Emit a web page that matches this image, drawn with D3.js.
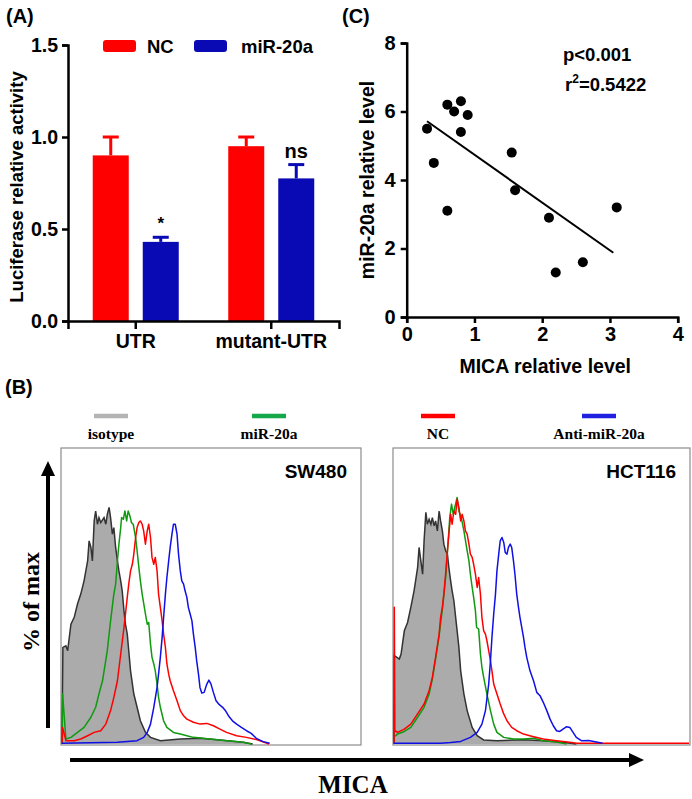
<!DOCTYPE html>
<html>
<head>
<meta charset="utf-8">
<script src="https://cdn.jsdelivr.net/npm/d3@7"></script>
<style>
  body { margin: 0; background: #fff; }
  svg { display: block; }
</style>
</head>
<body>
<div id="chart"></div>
<script>
// ---- (A) luciferase bars ----
const groups = ["UTR", "mutant-UTR"];
const treatments = ["NC", "miR-20a"];
const barMeans = [[0.90, 0.43], [0.95, 0.775]];
const barErrors = [[0.10, 0.025], [0.05, 0.075]];
const barMarks = [["", "*"], ["", "ns"]];
const barTicks = [0, 0.5, 1.0, 1.5];

// ---- (C) correlation ----
const micaLevel = [0.3, 0.4, 0.6, 0.7, 0.8, 0.8, 0.9, 0.6, 1.55, 1.6, 2.1, 2.2, 2.6, 3.1];
const mirLevel  = [5.5, 4.5, 6.2, 6.0, 6.3, 5.4, 5.9, 3.1, 4.8, 3.7, 2.9, 1.3, 1.6, 3.2];
const scatterXTicks = [0, 1, 2, 3, 4];
const scatterYTicks = [0, 2, 4, 6, 8];

// ---- (B) flow histograms (x: % of axis, y: % of max) ----
const cellLines = ["SW480", "HCT116"];
const histLabels = ["isotype", "miR-20a", "NC", "Anti-miR-20a"];

const sw480Isotype = [[0,0],[0.3,40.8],[1.3,41.5],[1.9,39.4],[3,50.6],[4.1,53.5],[5.2,59.1],[6.3,63.3],[7.4,68.9],[8.6,77.3],[9.1,85.8],[9.7,83],[10.2,77.3],[10.8,94.2],[11.3,98.4],[11.9,92.8],[12.4,95.6],[13,93.5],[14.1,95.6],[14.7,92.8],[15.2,97],[15.8,99.9],[16.3,95.6],[16.9,88.6],[17.4,91.4],[18,83],[18.6,77.3],[19.1,73.1],[19.7,68.9],[20.2,64.7],[20.8,56.2],[21.3,50.6],[21.9,46.4],[22.4,39.4],[23,30.9],[24.1,21.1],[25.2,15.5],[26.3,9.8],[28,4.9],[29.7,2.8],[33,1.4],[39.7,2.1],[46.3,2.4],[53,1.7],[60.8,0.7],[64,0]];
const sw480Mir = [[0,0],[0.2,21.1],[1.3,2.1],[3,2.8],[5.2,4.9],[7.4,7],[9.7,11.3],[11.3,15.5],[12.4,21.1],[13.6,26.7],[15.2,39.4],[16.3,52],[17.4,63.3],[18,67.5],[18.6,77.3],[19.1,84.4],[19.7,91.4],[20,95.6],[20.6,94.9],[21.1,98.4],[21.7,94.2],[22.2,98.4],[22.8,96.3],[23.3,93.5],[23.9,92.8],[24.7,87.2],[25.2,81.6],[25.8,74.5],[26.3,68.9],[26.9,63.3],[28,54.9],[28.6,50.6],[29.1,51.3],[29.7,42.2],[30.2,36.6],[30.8,33.8],[31.3,30.9],[31.9,25.3],[32.4,19.7],[33,15.5],[34.1,9.8],[35.2,7],[37.4,4.9],[39.7,4.2],[41.9,3.5],[44.1,2.8],[49.7,2.1],[55.2,1.4],[60.8,0.7],[63.5,0]];
const sw480Nc = [[0,0],[0.2,7],[1.3,1.4],[4.1,1.4],[6.3,2.1],[8.6,3.5],[10.8,4.9],[13,5.6],[14.7,8.4],[16.3,14.1],[17.4,19.7],[18.6,26.7],[19.7,38],[20.8,49.2],[21.3,54.9],[21.9,61.9],[22.4,67.5],[23,73.1],[23.6,75.9],[24.1,80.2],[24.7,87.2],[25.2,91.4],[25.8,93.5],[26.3,94.2],[26.9,92.8],[27.4,90],[28,84.4],[28.6,90],[29.1,92.8],[29.7,87.2],[30.2,78.8],[30.8,75.9],[31.3,78.8],[31.9,73.1],[32.4,63.3],[33,57.7],[33.6,52],[34.1,46.4],[34.7,40.8],[35.2,33.8],[35.8,29.5],[36.3,26.7],[37.4,22.5],[38.6,18.3],[39.7,14.1],[40.8,11.9],[41.9,10.5],[44.1,9.2],[46.3,8.4],[48.6,8.7],[50.8,7.7],[53,6.3],[55.2,4.9],[58.6,3.5],[61.9,2.8],[65.5,1.8],[69.5,0]];
const sw480Anti = [[0,0.3],[18.6,0.7],[25.2,1.4],[27.4,2.8],[28.6,4.9],[29.7,8.4],[30.8,15.5],[31.9,23.9],[32.4,29.5],[33,36.6],[33.6,45],[34.1,53.5],[34.7,63.3],[35.2,70.3],[35.8,77.3],[36.3,83],[36.9,88.6],[37.4,92.8],[38,92.8],[38.6,88.6],[39.1,80.2],[39.7,73.1],[40.2,68.9],[40.8,67.5],[41.3,64.7],[41.9,61.9],[42.4,57.7],[43,54.9],[43.6,52],[44.1,46.4],[44.7,40.8],[45.2,35.1],[45.8,29.5],[46.3,23.9],[46.9,21.5],[47.7,21.8],[48.6,25.3],[49.3,27],[50,25.3],[50.8,21.8],[51.7,18.3],[52.8,16.6],[53.9,15.5],[55,13.8],[56.1,11.5],[57.2,9.8],[58.6,8.4],[60.2,7],[61.9,5.6],[63.5,4.5],[65.2,2.4],[67.5,1],[69.7,0.3]];

const hctIsotype = [[0,0],[0.1,37.3],[1,36.6],[1.8,35.9],[2.4,38],[3.5,47.8],[4.6,51.3],[5.7,57.7],[6.8,64.7],[8,74.5],[8.5,83],[9.1,77.3],[9.7,71.7],[10.2,85.8],[10.8,97.8],[11.3,92.8],[11.9,94.9],[12.5,92.8],[13,95.6],[13.6,92.1],[14.1,94.2],[14.7,90],[15.3,98.4],[15.8,94.2],[16.4,90],[16.9,84.4],[17.5,81.6],[18.1,80.2],[18.6,74.5],[19.2,68.9],[19.7,64.7],[20.3,60.5],[20.9,53.5],[21.4,47.8],[22,40.8],[22.6,30.9],[23.7,21.1],[24.8,14.1],[26.5,7],[28.2,3.5],[30.4,1.7],[34.9,1.4],[43.9,1.8],[50.6,1.4],[57.3,0.7],[61.8,0]];
const hctMir = [[0,3],[1.2,4.2],[3.5,5.3],[5.7,7],[8,11.3],[10.2,15.5],[11.9,21.1],[13,27.4],[14.1,35.9],[15.3,45.7],[16.4,57],[17.5,70.3],[18.3,84.4],[18.9,95.6],[19.5,101.3],[20.1,97],[20.6,99.9],[21.4,104.1],[22,98.4],[22.8,95.6],[23.7,90],[24.6,83],[25.4,77.3],[25.9,71.7],[26.5,66.1],[27,61.9],[27.6,56.2],[28,49.2],[28.7,48.5],[29.3,38],[29.8,32.4],[30.4,28.1],[31.5,21.1],[32.7,14.1],[33.8,8.4],[34.9,4.9],[37.2,2.8],[40.5,2.1],[43.9,2.1],[47.3,2.4],[50.6,1.4],[55.1,0.8],[58.5,0]];
const hctNc = [[0,0],[0.1,57.7],[0.3,5.6],[1.2,4.9],[3.5,6.3],[5.7,8.4],[8,12.7],[10.2,16.9],[11.9,22.5],[13,28.1],[14.1,36.6],[15.3,46.4],[15.8,53.5],[16.4,57.7],[16.9,63.3],[17.5,71.7],[18.1,81.6],[18.6,88.6],[19.2,97],[19.7,92.8],[20.3,98.4],[20.9,97],[21.4,103.4],[22,99.9],[22.6,94.2],[23.1,97],[23.7,94.2],[24.2,90],[24.8,88.6],[25.4,84.4],[25.9,80.2],[26.5,78.8],[27,75.9],[27.6,71.7],[28.2,66.1],[28.7,70.3],[29.3,63.3],[29.8,53.5],[30.4,47.8],[31,46.4],[31.5,43.6],[32.1,39.4],[32.7,35.1],[33.2,30.9],[33.8,25.3],[34.9,21.1],[36,16.9],[37.2,12.7],[38.3,9.8],[39.9,7],[41.6,5.6],[43.9,4.2],[47.3,3.1],[50.6,2.1],[55.1,1.4],[59.6,0.7],[62,0.3],[100,0.3]];
const hctAnti = [[0,0.3],[15.8,0.3],[19.2,0.6],[22.6,1.1],[25.9,2.8],[28.2,4.9],[29.8,8.4],[31,14.1],[32.1,25.3],[32.7,35.1],[33.2,45],[33.8,54.9],[34.4,63.3],[34.9,73.1],[35.5,80.2],[36,85.8],[36.6,87.2],[37.2,85.1],[37.7,80.9],[38.3,80.2],[38.8,83],[39.4,84.4],[39.9,83],[40.5,77.3],[41,71.7],[41.6,63.3],[42.2,57.7],[42.7,53.5],[43.3,49.2],[43.9,45],[44.4,40.8],[45,36.6],[46.1,30.9],[47.3,26.7],[48.4,21.8],[49.5,20.4],[50.6,17.6],[51.8,14.1],[52.9,10.5],[54,7.7],[55.1,5.6],[56.2,5.3],[57.3,6.3],[58.5,7.3],[59.6,7],[60.7,4.9],[61.8,2.8],[63.5,1.4],[66,1.5],[70.7,0.3]];

const histData = [
  [sw480Isotype, sw480Mir, sw480Nc, sw480Anti],
  [hctIsotype, hctMir, hctNc, hctAnti]
];

const W = 692, H = 799;
const bold = "'Liberation Sans', Arial, sans-serif";
const serif = "'Liberation Serif', 'Times New Roman', serif";

const svg = d3.select("#chart").append("svg")
  .attr("width", W).attr("height", H)
  .style("font-family", bold).style("font-weight", "bold");

// ================= (A) =================
const aLeft = 68, aRight = 339, aTop = 45, aBottom = 321;
const barColors = ["#ff0000", "#0a0ab4"];

const yA = d3.scaleLinear().domain([0, 1.5]).range([aBottom, aTop]);
const xA = d3.scaleBand().domain(groups).range([aLeft, aRight]);
const xInner = d3.scaleBand().domain(treatments).range([24.75, 110.75]).paddingInner(0.28);

const gA = svg.append("g");

const barData = [];
groups.forEach((g, i) => treatments.forEach((t, j) => {
  barData.push({ g, t, j, v: barMeans[i][j], e: barErrors[i][j], m: barMarks[i][j] });
}));

gA.selectAll("rect.bar").data(barData).join("rect")
  .attr("class", "bar")
  .attr("x", d => xA(d.g) + xInner(d.t))
  .attr("y", d => yA(d.v))
  .attr("width", xInner.bandwidth())
  .attr("height", d => yA(0) - yA(d.v))
  .attr("fill", d => barColors[d.j]);

// error bars (upper only)
const errG = gA.selectAll("g.err").data(barData).join("g").attr("class", "err")
  .attr("stroke", d => barColors[d.j]).attr("stroke-width", 3);
errG.append("line")
  .attr("x1", d => xA(d.g) + xInner(d.t) + xInner.bandwidth() / 2)
  .attr("x2", d => xA(d.g) + xInner(d.t) + xInner.bandwidth() / 2)
  .attr("y1", d => yA(d.v)).attr("y2", d => yA(d.v + d.e));
errG.append("line")
  .attr("x1", d => xA(d.g) + xInner(d.t) + xInner.bandwidth() / 2 - 8)
  .attr("x2", d => xA(d.g) + xInner(d.t) + xInner.bandwidth() / 2 + 8)
  .attr("y1", d => yA(d.v + d.e)).attr("y2", d => yA(d.v + d.e));

gA.selectAll("text.mark").data(barData.filter(d => d.m)).join("text")
  .attr("class", "mark")
  .attr("x", d => xA(d.g) + xInner(d.t) + xInner.bandwidth() / 2)
  .attr("y", d => yA(d.v + d.e) - (d.m === "*" ? 8 : 7))
  .attr("text-anchor", "middle")
  .style("font-size", d => d.m === "*" ? "17px" : "20px")
  .text(d => d.m);

// axes
const axA_y = gA.append("g").attr("transform", `translate(${aLeft},0)`)
  .call(d3.axisLeft(yA).tickValues(barTicks).tickFormat(d3.format(".1f")).tickSizeOuter(0).tickSize(6).tickPadding(4));
const axA_x = gA.append("g").attr("transform", `translate(0,${aBottom})`)
  .call(d3.axisBottom(xA).tickSizeOuter(0).tickSize(8).tickPadding(5));
[axA_y, axA_x].forEach(a => {
  a.select(".domain").attr("stroke-width", 2.5);
  a.selectAll(".tick line").attr("stroke-width", 2.5);
  a.selectAll("text").style("font-family", bold).style("font-weight", "bold").style("font-size", "19.5px").attr("fill", "#000");
});

gA.append("text")
  .attr("transform", `translate(23,${(aTop + aBottom) / 2 + 4}) rotate(-90)`)
  .attr("text-anchor", "middle").style("font-size", "18.5px")
  .text("Luciferase relative activity");

// legend
const legA = gA.selectAll("g.leg").data(treatments).join("g").attr("class", "leg")
  .attr("transform", (d, i) => `translate(${[103, 194][i]},40)`);
legA.append("rect").attr("width", 33).attr("height", 12).attr("rx", 3)
  .attr("fill", (d, i) => barColors[i]);
legA.append("text").attr("x", (d, i) => [44, 47][i]).attr("y", 13)
  .style("font-size", "18.5px").text(d => d);

svg.append("text").attr("x", 6).attr("y", 23).style("font-size", "20px").text("(A)");

// ================= (C) =================
const cLeft = 406.7, cRight = 677.7, cTop = 43, cBottom = 317;
const xC = d3.scaleLinear().domain([0, 4]).range([cLeft, cRight]);
const yC = d3.scaleLinear().domain([0, 8]).range([cBottom, cTop]);
const gC = svg.append("g");

const axC_x = gC.append("g").attr("transform", `translate(0,${cBottom})`)
  .call(d3.axisBottom(xC).tickValues(scatterXTicks).tickFormat(d3.format("d")).tickSizeOuter(0).tickSize(6).tickPadding(4));
const axC_y = gC.append("g").attr("transform", `translate(${cLeft},0)`)
  .call(d3.axisLeft(yC).tickValues(scatterYTicks).tickFormat(d3.format("d")).tickSizeOuter(0).tickSize(6).tickPadding(5));
[axC_x, axC_y].forEach(a => {
  a.select(".domain").attr("stroke-width", 2.5);
  a.selectAll(".tick line").attr("stroke-width", 2.5);
  a.selectAll("text").style("font-family", bold).style("font-weight", "bold").style("font-size", "20px").attr("fill", "#000");
});

const pts = micaLevel.map((x, i) => ({ x, y: mirLevel[i] }));
// least-squares fit
const mx = d3.mean(pts, d => d.x), my = d3.mean(pts, d => d.y);
const slope = d3.sum(pts, d => (d.x - mx) * (d.y - my)) / d3.sum(pts, d => (d.x - mx) ** 2);
const icpt = my - slope * mx;
const [fx0, fx1] = d3.extent(micaLevel);
gC.append("line")
  .attr("x1", xC(fx0)).attr("y1", yC(icpt + slope * fx0))
  .attr("x2", xC(fx1 - 0.05)).attr("y2", yC(icpt + slope * (fx1 - 0.05)))
  .attr("stroke", "#000").attr("stroke-width", 2);

gC.selectAll("circle").data(pts).join("circle")
  .attr("cx", d => xC(d.x)).attr("cy", d => yC(d.y)).attr("r", 5).attr("fill", "#000");

gC.append("text").attr("transform", `translate(374,${(cTop + cBottom) / 2}) rotate(-90)`)
  .attr("text-anchor", "middle").style("font-size", "19.5px").text("miR-20a relative level");
gC.append("text").attr("x", (cLeft + cRight) / 2 + 3).attr("y", 373)
  .attr("text-anchor", "middle").style("font-size", "19.5px").text("MICA relative level");
gC.append("text").attr("x", 563).attr("y", 61).style("font-size", "18.5px").text("p<0.001");
const r2 = gC.append("text").attr("x", 565).attr("y", 91).style("font-size", "18.5px");
r2.append("tspan").text("r");
r2.append("tspan").attr("dy", -8).style("font-size", "12px").text("2");
r2.append("tspan").attr("dy", 8).text("=0.5422");

svg.append("text").attr("x", 342).attr("y", 23).style("font-size", "20px").text("(C)");

// ================= (B) =================
svg.append("text").attr("x", 5).attr("y", 394).style("font-size", "20px").text("(B)");

const histColors = ["#333333", "#109a10", "#ff0000", "#1010e6"];
const legColors = ["#b4b4b4", "#14a84a", "#ff0000", "#2020e0"];
const legX = [111, 269, 438, 599];

const legB = svg.selectAll("g.legb").data(histLabels).join("g").attr("class", "legb")
  .attr("transform", (d, i) => `translate(${legX[i]},0)`);
legB.append("line").attr("x1", -17).attr("x2", 17).attr("y1", 416).attr("y2", 416)
  .attr("stroke", (d, i) => legColors[i]).attr("stroke-width", 4.5);
legB.append("text").attr("y", 439).attr("text-anchor", "middle")
  .style("font-family", serif).style("font-size", "15.5px").text(d => d);

const boxes = [{ x0: 61, x1: 361 }, { x0: 393, x1: 690 }];
const bTop = 448, bBottom = 745;

cellLines.forEach((name, k) => {
  const b = boxes[k];
  const xH = d3.scaleLinear().domain([0, 100]).range([b.x0 + 1, b.x1 - 1]);
  const yH = d3.scaleLinear().domain([0, 125]).range([bBottom - 1, bTop]);
  const g = svg.append("g");

  g.append("rect").attr("x", b.x0).attr("y", bTop).attr("width", b.x1 - b.x0).attr("height", bBottom - bTop)
    .attr("fill", "none").attr("stroke", "#8c8c8c").attr("stroke-width", 1.2);

  const sets = histData[k];
  const area = d3.area().x(d => xH(d[0])).y0(yH(0)).y1(d => yH(d[1]));
  const line = d3.line().x(d => xH(d[0])).y(d => yH(d[1]));

  g.append("path").attr("d", area(sets[0])).attr("fill", "#ababab");
  g.append("path").attr("d", line(sets[0])).attr("fill", "none")
    .attr("stroke", histColors[0]).attr("stroke-width", 1.5);
  [1, 2, 3].forEach(s => {
    g.append("path").attr("d", line(sets[s])).attr("fill", "none")
      .attr("stroke", histColors[s]).attr("stroke-width", 1.5).attr("stroke-linejoin", "round");
  });

  g.append("text").attr("x", [347, 676][k]).attr("y", 478).attr("text-anchor", "end")
    .style("font-size", "19px").text(name);
});

// flow axes arrows
svg.append("line").attr("x1", 48).attr("x2", 48).attr("y1", 728).attr("y2", 474)
  .attr("stroke", "#000").attr("stroke-width", 4);
svg.append("path").attr("d", "M48,461 L41,476 L55,476 Z").attr("fill", "#000");
svg.append("line").attr("x1", 70).attr("x2", 630).attr("y1", 760).attr("y2", 760)
  .attr("stroke", "#000").attr("stroke-width", 4);
svg.append("path").attr("d", "M644,760 L629,753 L629,767 Z").attr("fill", "#000");

svg.append("text").attr("transform", "translate(39,602) rotate(-90)")
  .attr("text-anchor", "middle").style("font-family", serif).style("font-size", "24px").text("% of max");
svg.append("text").attr("x", 353).attr("y", 793)
  .attr("text-anchor", "middle").style("font-family", serif).style("font-size", "25px").text("MICA");
</script>
</body>
</html>
